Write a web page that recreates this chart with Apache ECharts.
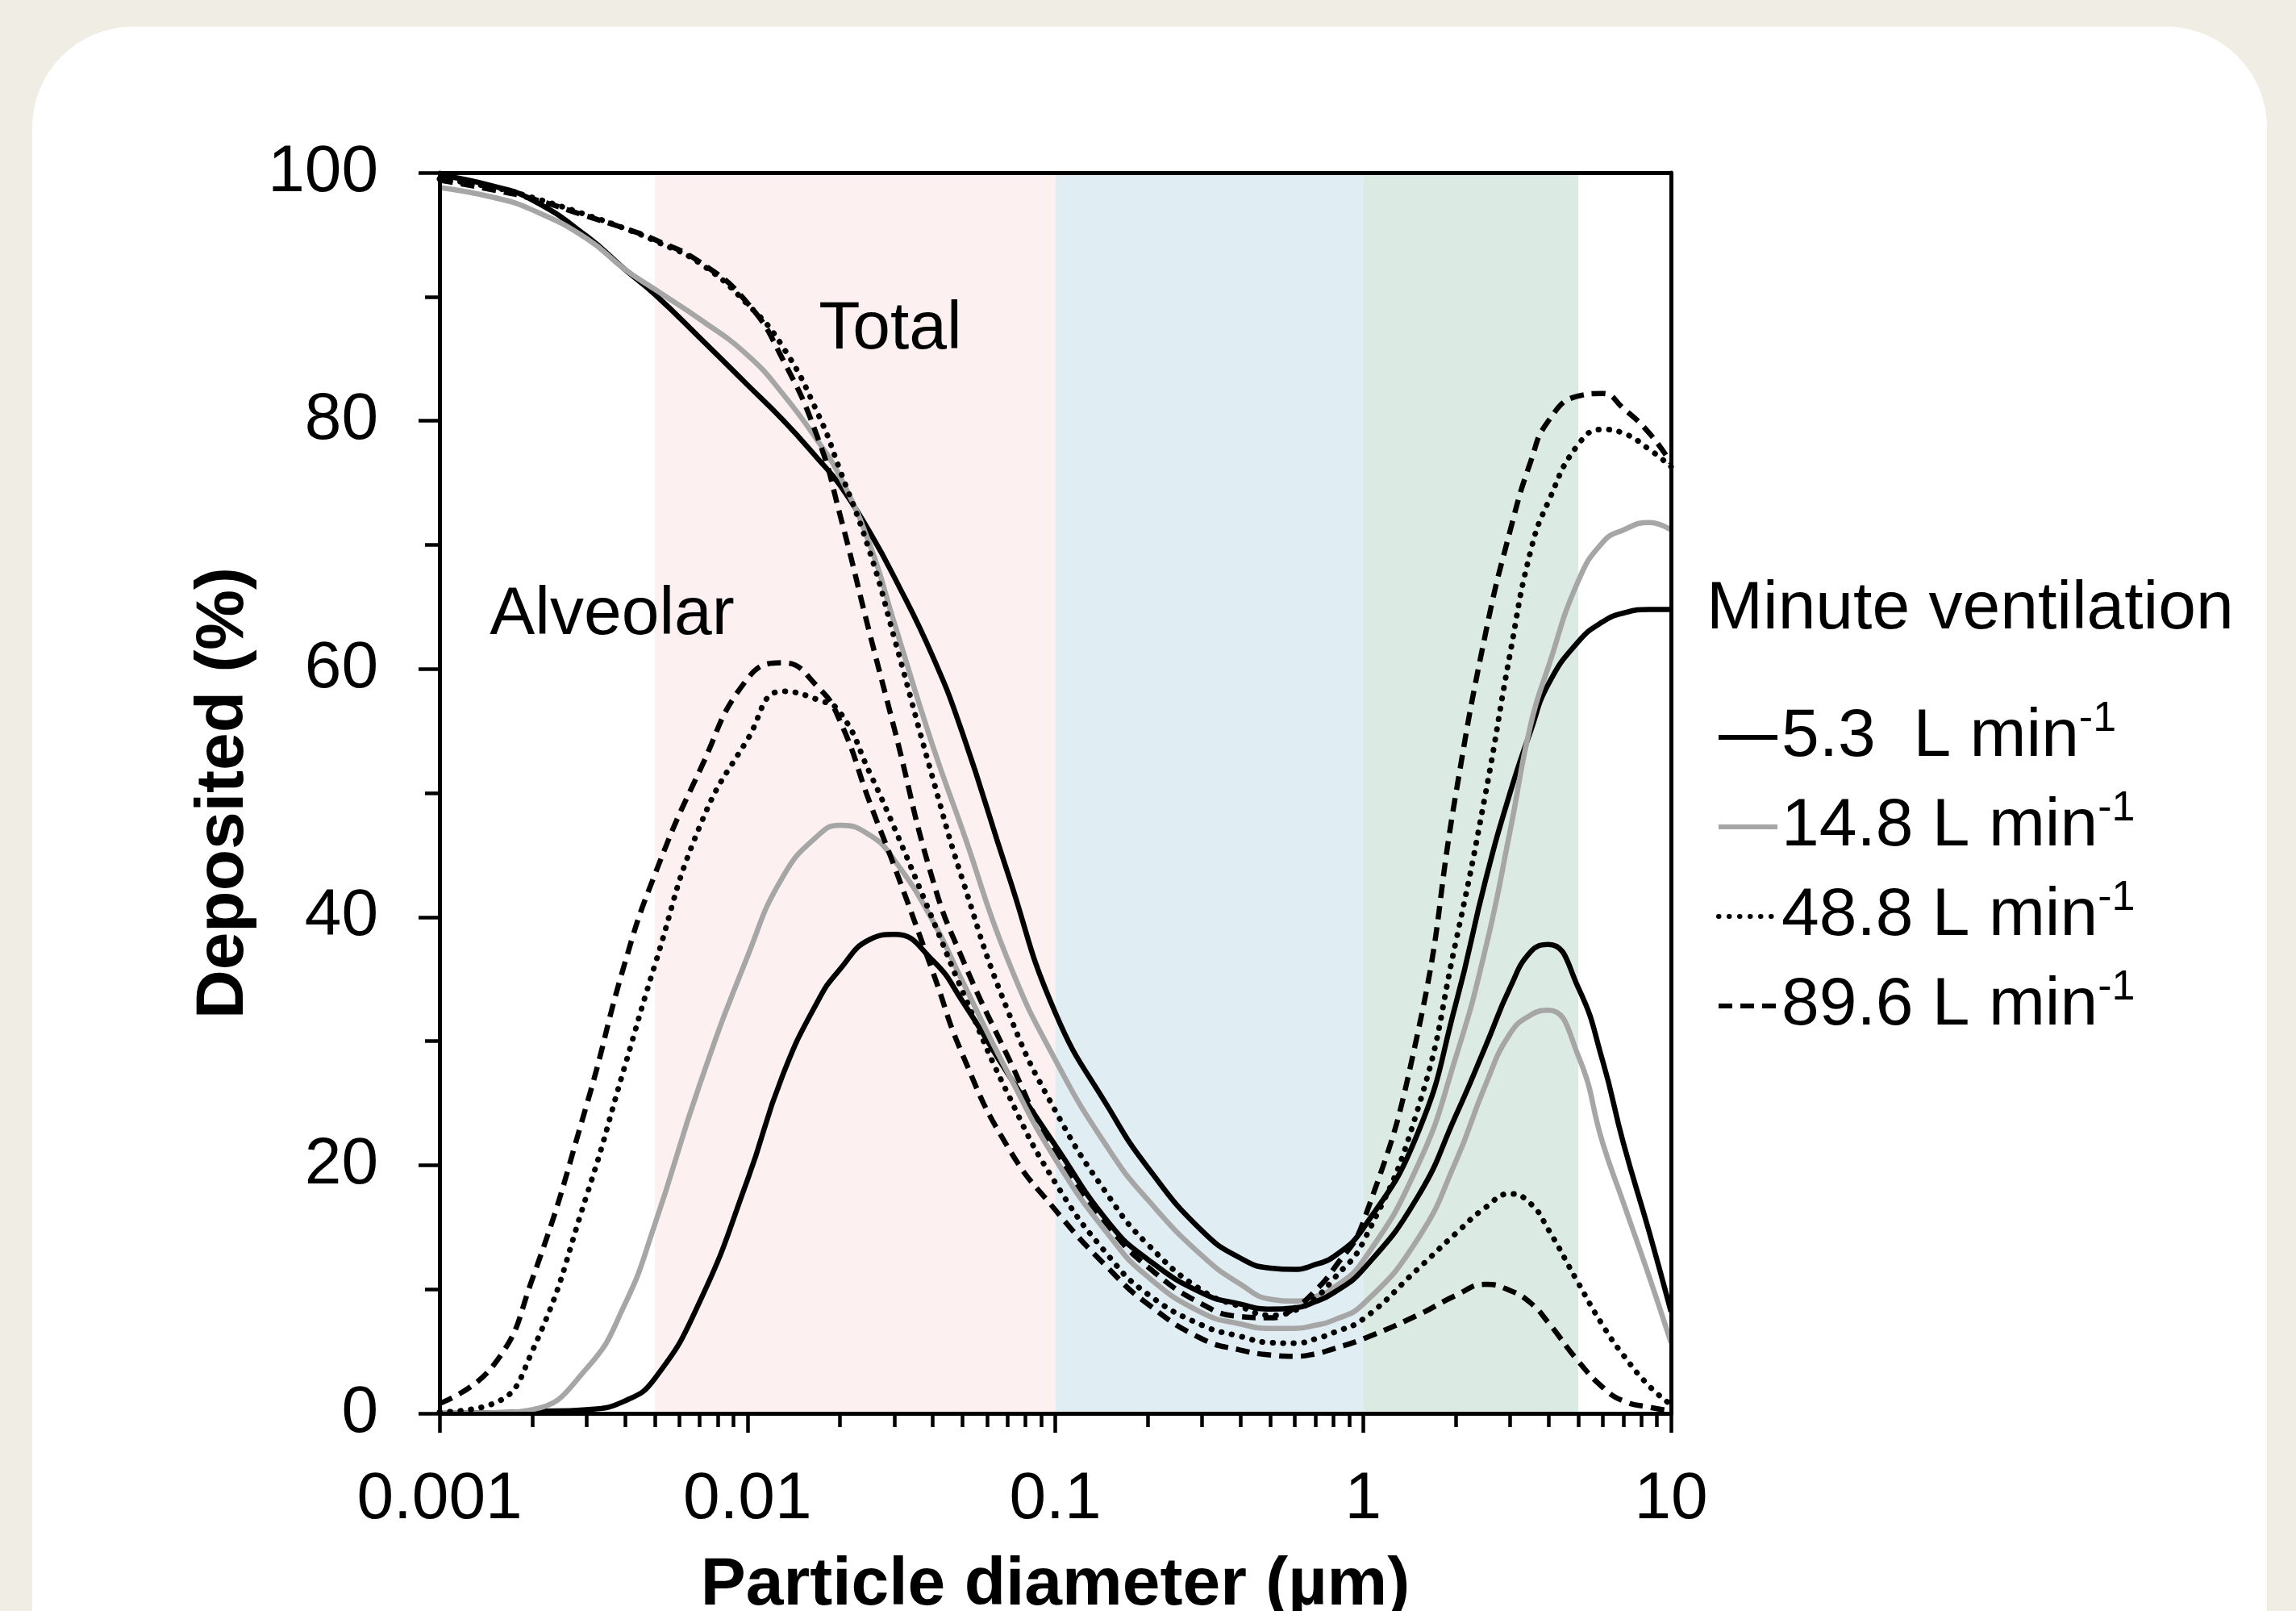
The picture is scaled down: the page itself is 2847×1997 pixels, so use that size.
<!DOCTYPE html>
<html><head><meta charset="utf-8">
<script src="https://cdn.jsdelivr.net/npm/echarts@6/dist/echarts.min.js"></script>
<style>
html,body{margin:0;padding:0;width:2847px;height:1997px;overflow:hidden;background:#f0ede5;}
#card{position:absolute;left:40px;top:33px;width:2771px;height:2200px;background:#ffffff;border-radius:125px;}
#chart{position:absolute;left:0;top:0;width:2847px;height:1997px;}
</style></head><body>
<div id="card"></div><div id="chart"></div>
<script>
// ---- data ----
const diameters = [0.001, 0.0015, 0.002, 0.003, 0.004, 0.005, 0.007, 0.01, 0.013, 0.017, 0.02, 0.025, 0.03, 0.04, 0.05, 0.07, 0.1, 0.15, 0.2, 0.3, 0.4, 0.5, 0.6, 0.7, 0.8, 1, 1.5, 2, 2.5, 3, 3.5, 4, 5, 6, 7, 8.5, 10];
const total53  = [99.8, 98.9, 97.8, 94.9, 92.2, 90.2, 86.7, 82.9, 80.1, 76.9, 74.8, 71.0, 67.4, 61.0, 54.8, 43.6, 32.3, 24.5, 19.8, 14.7, 12.5, 11.7, 11.6, 12.0, 12.6, 14.9, 22.5, 33.0, 43.0, 50.0, 55.0, 58.8, 62.2, 63.8, 64.5, 64.8, 64.8];
const total148 = [98.8, 98.0, 97.0, 94.7, 92.2, 90.6, 88.2, 85.3, 82.2, 78.3, 75.5, 70.0, 63.7, 53.8, 47.0, 36.6, 28.5, 21.2, 17.2, 12.7, 10.4, 9.2, 9.05, 9.4, 10.1, 12.3, 19.9, 28.7, 37.5, 46.9, 55.5, 60.2, 67.1, 70.2, 71.2, 71.8, 71.2];
const total488 = [99.5, 98.8, 98.0, 96.6, 95.5, 94.5, 92.7, 89.4, 86.0, 80.5, 76.0, 69.4, 62.5, 51.2, 43.0, 32.5, 24.4, 17.4, 13.6, 9.9, 8.6, 7.9, 8.3, 9.3, 10.8, 13.8, 24.4, 38.0, 50.0, 61.2, 69.5, 73.5, 78.1, 79.3, 79.0, 77.7, 76.3];
const total896 = [99.4, 98.6, 97.9, 96.5, 95.5, 94.6, 92.8, 89.5, 85.0, 78.5, 72.4, 62.8, 55.2, 43.0, 36.6, 28.8, 21.0, 15.0, 11.8, 8.8, 7.8, 7.7, 8.5, 9.9, 11.6, 15.4, 30.5, 49.9, 62.9, 71.1, 76.7, 80.0, 82.0, 82.2, 81.0, 79.0, 76.6];
const alv53  = [0, 0.05, 0.15, 0.3, 1.0, 2.8, 9.0, 18.8, 27.2, 33.3, 35.8, 38.2, 38.6, 36.5, 33.2, 27.4, 21.6, 15.3, 12.4, 9.7, 8.8, 8.4, 8.5, 9.0, 9.7, 11.6, 17.4, 24.0, 29.6, 34.3, 37.2, 37.8, 34.3, 28.4, 21.8, 14.6, 8.2];
const alv148 = [0, 0.05, 0.3, 3.6, 8.8, 15.2, 26.5, 36.8, 43.2, 46.6, 47.4, 46.6, 44.6, 39.7, 34.8, 27.5, 20.5, 14.3, 11.0, 8.1, 7.2, 6.85, 6.85, 7.1, 7.5, 8.8, 14.0, 20.3, 26.5, 30.6, 32.1, 32.5, 28.8, 21.8, 17.0, 11.0, 5.7];
const alv488 = [0.1, 0.8, 5.0, 17.5, 28.0, 36.1, 47.3, 54.3, 58.2, 57.5, 56.5, 51.6, 47.2, 39.8, 34.0, 25.8, 18.6, 12.6, 9.6, 7.1, 6.2, 5.7, 5.65, 6.0, 6.5, 7.6, 11.6, 14.5, 16.6, 17.7, 16.9, 14.8, 10.5, 7.1, 4.7, 2.2, 0.7];
const alv896 = [0.8, 3.9, 10.8, 24.8, 36.3, 43.4, 51.8, 59.2, 60.5, 58.5, 55.8, 49.2, 44.1, 35.6, 28.9, 21.5, 16.4, 11.6, 8.8, 6.0, 5.1, 4.7, 4.6, 4.8, 5.2, 6.0, 7.9, 9.5, 10.4, 9.9, 8.9, 7.3, 4.2, 2.1, 1.0, 0.5, 0.2];
const flowNames = ['5.3', '14.8', '48.8', '89.6'];
const legendTexts = ['5.3  L min', '14.8 L min', '48.8 L min', '89.6 L min'];
const xTickLabels = ['0.001', '0.01', '0.1', '1', '10'];
const bandStarts = [0.005, 0.1, 1];
const bandEnds = [0.1, 1, 5];

// ---- styles ----
const FONT = '"Liberation Sans", Arial, Helvetica, sans-serif';
const bandColors = ['#fcf0f0', '#e0edf2', '#dbeae2'];
const flowStyles = [
  {color: '#000000', type: 'solid', cap: 'butt', width: 6.5},
  {color: '#a6a6a6', type: 'solid', cap: 'butt', width: 6.5},
  {color: '#000000', type: [0.5, 12.5], cap: 'round', width: 7},
  {color: '#000000', type: [17, 10], cap: 'butt', width: 6.5}
];

function mk(idx, ys, withBands) {
  const st = flowStyles[idx];
  const s = {
    type: 'line', name: flowNames[idx],
    data: diameters.map((d, i) => [d, ys[i]]),
    symbol: 'none', showSymbol: false, smooth: 0.5, silent: true,
    lineStyle: {width: st.width, color: st.color, type: st.type, cap: st.cap},
    itemStyle: {color: st.color},
    z: 3
  };
  if (withBands) {
    s.markArea = {
      silent: true, z: 1,
      itemStyle: {opacity: 1},
      data: bandStarts.map((b, i) => [{xAxis: b, itemStyle: {color: bandColors[i]}}, {xAxis: bandEnds[i]}])
    };
  }
  return s;
}

const chart = echarts.init(document.getElementById('chart'), null, {renderer: 'canvas'});
const axisLine = {show: true, onZero: false, lineStyle: {color: '#000', width: 5}};
const tickStyle = {color: '#000', width: 4.5};
const option = {
  animation: false,
  backgroundColor: 'transparent',
  grid: {left: 545, right: 775, top: 214, bottom: 245, containLabel: false, outerBoundsMode: 'none'},
  xAxis: [{
    type: 'log', logBase: 10, min: 0.001, max: 10, splitNumber: 4, z: 10,
    axisLine: axisLine,
    axisTick: {show: true, length: 24, lineStyle: tickStyle},
    minorTick: {show: true, splitNumber: 9, length: 17, lineStyle: tickStyle},
    splitLine: {show: false}, minorSplitLine: {show: false},
    axisLabel: {margin: 66, fontSize: 82, color: '#000', fontFamily: FONT,
      formatter: v => xTickLabels[Math.round(Math.log10(v)) + 3]},
    name: 'Particle diameter (µm)', nameLocation: 'middle', nameGap: 172,
    nameTextStyle: {fontSize: 84, fontWeight: 'bold', color: '#000', fontFamily: FONT}
  }, {
    type: 'log', logBase: 10, min: 0.001, max: 10, position: 'top', z: 10,
    axisLine: axisLine, axisTick: {show: false}, axisLabel: {show: false},
    splitLine: {show: false}
  }],
  yAxis: [{
    type: 'value', min: 0, max: 100, interval: 20, z: 10,
    axisLine: axisLine,
    axisTick: {show: true, length: 26, lineStyle: tickStyle},
    minorTick: {show: true, splitNumber: 2, length: 18, lineStyle: tickStyle},
    splitLine: {show: false}, minorSplitLine: {show: false},
    axisLabel: {margin: 76, fontSize: 82, color: '#000', fontFamily: FONT},
    name: 'Deposited (%)', nameLocation: 'middle', nameGap: 225,
    nameTextStyle: {fontSize: 84, fontWeight: 'bold', color: '#000', fontFamily: FONT}
  }, {
    type: 'value', min: 0, max: 100, position: 'right', z: 10,
    axisLine: axisLine, axisTick: {show: false}, axisLabel: {show: false},
    splitLine: {show: false}
  }],
  legend: {
    data: flowNames, orient: 'vertical', left: 2128, top: 866, padding: 0,
    itemWidth: 73, itemHeight: 20, itemGap: 21, selectedMode: false,
    lineStyle: {width: 6},
    itemStyle: {opacity: 0, borderWidth: 0},
    formatter: n => '{t|' + legendTexts[flowNames.indexOf(n)] + '}{s|-1}',
    textStyle: {
      fontSize: 84, color: '#000', fontFamily: FONT,
      rich: {
        t: {fontSize: 84, lineHeight: 96, color: '#000', fontFamily: FONT},
        s: {fontSize: 52, lineHeight: 64, verticalAlign: 'top', color: '#000', fontFamily: FONT}
      }
    }
  },
  graphic: [
    {type: 'text', x: 1104, y: 409, z: 20, style: {text: 'Total', font: '84px ' + FONT, fill: '#000', align: 'center', verticalAlign: 'middle'}},
    {type: 'text', x: 759, y: 763, z: 20, style: {text: 'Alveolar', font: '84px ' + FONT, fill: '#000', align: 'center', verticalAlign: 'middle'}},
    {type: 'text', x: 2116, y: 756, z: 20, style: {text: 'Minute ventilation', font: '84px ' + FONT, fill: '#000', align: 'left', verticalAlign: 'middle'}}
  ],
  series: [
    mk(0, total53, true), mk(1, total148), mk(2, total488), mk(3, total896),
    mk(0, alv53), mk(1, alv148), mk(2, alv488), mk(3, alv896)
  ]
};
chart.setOption(option);
</script>
</body></html>
